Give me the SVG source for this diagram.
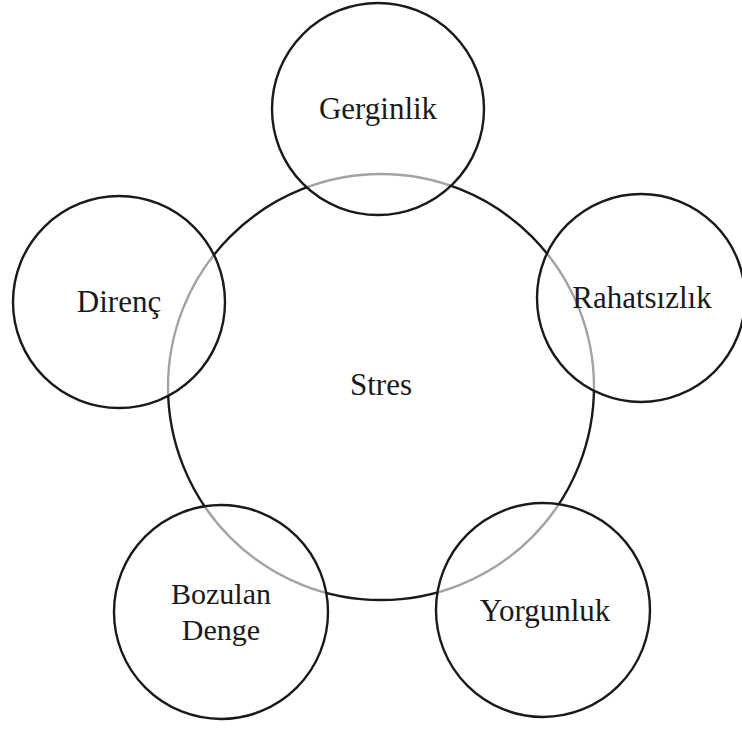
<svg xmlns="http://www.w3.org/2000/svg" width="742" height="729" viewBox="0 0 742 729">
<style>
.c{stroke:#1a1a1a;stroke-width:2.4;}
.main{fill:none;}
.sat{fill:#ffffff;fill-opacity:0.6;}
text{font-family:"Liberation Serif","Times New Roman",serif;font-size:31px;fill:#1a1a1a;text-anchor:middle;}
.sm{font-size:30px;}
</style>
<rect width="742" height="729" fill="#ffffff"/>
<g id="stres">
<circle class="c main" cx="381" cy="387" r="213"/>
<text x="381" y="395">Stres</text>
</g>
<g id="gerginlik">
<circle class="c sat" cx="378" cy="109" r="106"/>
<text x="378" y="119">Gerginlik</text>
</g>
<g id="direnc">
<circle class="c sat" cx="119" cy="302" r="106"/>
<text x="119" y="312">Direnç</text>
</g>
<g id="rahatsizlik">
<circle class="c sat" cx="641" cy="298" r="104"/>
<text x="642" y="308">Rahatsızlık</text>
</g>
<g id="bozulan-denge">
<circle class="c sat" cx="221" cy="612" r="107"/>
<text class="sm" x="221" y="604">Bozulan</text>
<text class="sm" x="221" y="640">Denge</text>
</g>
<g id="yorgunluk">
<circle class="c sat" cx="543" cy="610" r="107"/>
<text x="545" y="621">Yorgunluk</text>
</g>
</svg>
